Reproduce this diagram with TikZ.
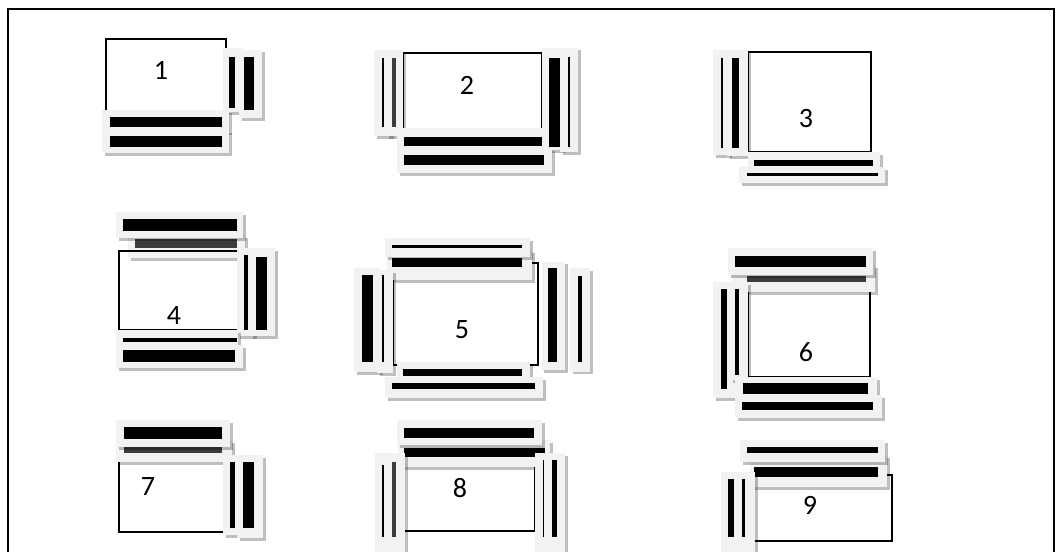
\documentclass[tikz,border=0pt]{standalone}
\usepackage{fontspec}
\setmainfont{Carlito}
\definecolor{padGray}{RGB}{242,242,242}
\definecolor{dimBar}{RGB}{60,60,60}

\begin{document}
\begin{tikzpicture}[x=1pt,y=-1pt,
      pad/.style={fill=padGray,preaction={fill=black,opacity=0.25,
                  transform canvas={xshift=2.5pt,yshift=-2.5pt}}},
      bar/.style={fill=black},
      dimbar/.style={fill=dimBar},
      seat/.style={draw=black,line width=1.4pt},
      num/.style={font=\fontsize{28}{28}\selectfont,inner sep=0pt}]
    \useasboundingbox (0,0) rectangle (1056,551);
    \clip (0,0) rectangle (1056,551);
    % outer frame
    \draw[line width=2pt] (8,560) -- (8,9.5) -- (1054,9.5) -- (1054,560);

    % layout 1
    \draw[seat] (106,39) rectangle (226,125);
    \node[num] (n1) at (161,70) {1};
    \fill[pad] (223,48) rectangle (243,112);  \fill[bar] (229,57) rectangle (235,108);
    \fill[pad] (239,50) rectangle (262,118);  \fill[bar] (244,57) rectangle (254,110);
    \fill[pad] (102,110) rectangle (229,132); \fill[bar] (110,117) rectangle (222,127);
    \fill[pad] (102,130) rectangle (229,153); \fill[bar] (110,136) rectangle (222,147);

    % layout 2
    \draw[seat] (403,53) rectangle (542,150);
    \node[num] (n2) at (467,85) {2};
    \fill[pad] (374,50) rectangle (391,136);  \fill[bar] (381.5,58) rectangle (384,127);
    \fill[pad] (386,50) rectangle (403,136);  \fill[dimbar] (392,58) rectangle (395.5,127);
    \fill[pad] (397,128) rectangle (548,152); \fill[bar] (404,137) rectangle (542,146);
    \fill[pad] (542,48) rectangle (563,150);  \fill[bar] (549,58) rectangle (560,147);
    \fill[pad] (560,48) rectangle (578,152);  \fill[bar] (567.5,57) rectangle (570,147);
    \fill[pad] (397,148) rectangle (552,173); \fill[bar] (404,155) rectangle (544,165);

    % layout 3
    \draw[seat] (748,52) rectangle (871,152);
    \node[num] (n3) at (806,119) {3};
    \fill[pad] (713,50) rectangle (729,155);  \fill[bar] (721,58) rectangle (722.7,148);
    \fill[pad] (727,50) rectangle (748,156);  \fill[bar] (731.7,58) rectangle (739,148);
    \fill[pad] (748,152) rectangle (880,168); \fill[bar] (754,159.5) rectangle (873,165.5);
    \fill[pad] (739,167) rectangle (885,183); \fill[bar] (747,173.3) rectangle (878,175.7);

    % layout 4
    \fill[pad] (128,235) rectangle (245,258); \fill[dimbar] (135,239) rectangle (237,248);
    \fill[pad] (116,212) rectangle (243,238); \fill[bar] (123,219) rectangle (237,231);
    \draw[seat] (119,251) rectangle (240,330);
    \node[num] (n4) at (174,316) {4};
    \fill[pad] (237,248) rectangle (254,336); \fill[bar] (244,255) rectangle (248.3,330);
    \fill[pad] (250,248) rectangle (275,336); \fill[bar] (255.7,257) rectangle (266.7,330);
    \fill[pad] (116,330) rectangle (238,347); \fill[bar] (123,337.7) rectangle (237,341.7);
    \fill[pad] (116,345) rectangle (243,368); \fill[bar] (123,350) rectangle (235,361.7);

    % layout 5
    \draw[seat] (393,263) rectangle (538,365);
    \node[num] (n5) at (462,330) {5};
    \fill[pad] (387,250) rectangle (532,280); \fill[bar] (391.7,258) rectangle (521.7,267.3);
    \fill[pad] (385,238) rectangle (530,257); \fill[bar] (391.7,245) rectangle (521.7,248.3);
    \fill[pad] (354,268) rectangle (380,372); \fill[bar] (361.7,275) rectangle (373.3,361.7);
    \fill[pad] (377,270) rectangle (393,373); \fill[bar] (381.7,275) rectangle (383.7,361.7);
    \fill[pad] (541.7,261.7) rectangle (565,370); \fill[bar] (548.3,268.3) rectangle (556.7,361.7);
    \fill[pad] (570,268.3) rectangle (590,371.7); \fill[bar] (577.7,276) rectangle (582,361.7);
    \fill[pad] (397,362) rectangle (530,378); \fill[bar] (403.3,369.3) rectangle (521.7,375.7);
    \fill[pad] (385,377) rectangle (543,398); \fill[bar] (391.7,383.3) rectangle (535,389.3);

    % layout 6
    \draw[seat] (748,290) rectangle (870,377);
    \node[num] (n6) at (806,352) {6};
    \fill[pad] (732,265) rectangle (875,292); \fill[dimbar] (746.7,276) rectangle (866,281.7);
    \fill[pad] (728,248) rectangle (873,275); \fill[bar] (735,256) rectangle (866,267.3);
    \fill[pad] (713,282) rectangle (735,398); \fill[bar] (720.7,289.3) rectangle (727.3,389.3);
    \fill[pad] (730,282) rectangle (748,380); \fill[bar] (735,289.3) rectangle (739,375);
    \fill[pad] (735,377) rectangle (877,397); \fill[bar] (742.7,383.3) rectangle (868.3,394);
    \fill[pad] (735,395) rectangle (882,418); \fill[bar] (741.7,402.3) rectangle (873.3,410);

    % layout 7
    \draw[seat] (119,456) rectangle (225,532);
    \node[num] (n7) at (148,487) {7};
    \fill[pad] (116,440) rectangle (232,462); \fill[dimbar] (124,447.3) rectangle (221.7,453.3);
    \fill[pad] (116,420) rectangle (230,447); \fill[bar] (124,427.3) rectangle (221.7,439.3);
    \fill[pad] (223,455) rectangle (240,535); \fill[bar] (230,461.7) rectangle (235,528.3);
    \fill[pad] (237,455) rectangle (263,538); \fill[bar] (243.3,461.7) rectangle (254,528.3);

    % layout 8
    \draw[seat] (404,455) rectangle (535,531);
    \node[num] (n8) at (460,488) {8};
    \fill[pad] (398,440) rectangle (550,467); \fill[bar] (404,448.3) rectangle (545,457.3);
    \fill[pad] (397,420) rectangle (542,445); \fill[bar] (404,428.3) rectangle (534,438.3);
    \fill[pad] (375,453) rectangle (392,560); \fill[bar] (381.7,465) rectangle (384,536.7);
    \fill[pad] (388,453) rectangle (405,560); \fill[dimbar] (392.3,462) rectangle (395.7,536.7);
    \fill[pad] (535,453) rectangle (550,560); \fill[bar] (542.7,460) rectangle (544.3,536.7);
    \fill[pad] (546,453) rectangle (565,560); \fill[bar] (551.7,460) rectangle (557.3,536.7);

    % layout 9
    \draw[seat] (754,475) rectangle (892,541);
    \node[num] (n9) at (810,505) {9};
    \fill[pad] (750,455) rectangle (887,487); \fill[bar] (754,466.7) rectangle (878.3,476.7);
    \fill[pad] (740,440) rectangle (885,462); \fill[bar] (747.3,447.3) rectangle (878.3,453.3);
    \fill[pad] (721,472) rectangle (738,560); \fill[bar] (728.3,479.3) rectangle (734,536.7);
    \fill[pad] (736,472) rectangle (755,560); \fill[bar] (741.7,479.3) rectangle (745,536.7);
  \end{tikzpicture}
\end{document}
